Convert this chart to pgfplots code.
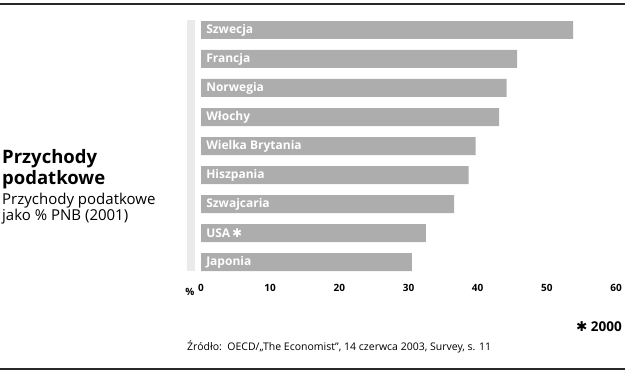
\documentclass[border=0pt]{standalone}
\usepackage{pgfplots}
\pgfplotsset{compat=1.18}
\usepackage{fontspec}
\setmainfont{Open Sans}
\newfontfamily\symfont{DejaVu Sans}
\definecolor{bargray}{RGB}{173,173,173}
\definecolor{stripgray}{RGB}{234,234,234}
\definecolor{linegray}{RGB}{40,40,40}
\begin{document}
\begin{tikzpicture}[x=1pt,y=-1pt]
\useasboundingbox (0,0) rectangle (629,378);
\draw[line width=1.4pt, linegray] (0,4) -- (625,4);
\draw[line width=1.4pt, linegray] (0,369) -- (625,369);
\fill[stripgray] (187,20) rectangle (195,271);
\begin{axis}[
  at={(201pt,-271pt)}, anchor=south west,
  scale only axis, width=415pt, height=250pt,
  xmin=0, xmax=60, ymin=-0.31, ymax=8.31,
  xbar, bar width=18pt, axis on top,
  axis line style={draw=none}, tick style={draw=none},
  xtick={0,10,...,60},
  ytick={0,...,8},
  yticklabels={Japonia,{USA\,{\symfont\char"2731}},Szwajcaria,Hiszpania,Wielka Brytania,W\l ochy,Norwegia,Francja,Szwecja},
  y tick label style={anchor=west, xshift=6pt, yshift=-0.5pt, text=white, font=\fontsize{12}{14}\selectfont\bfseries},
  x tick label style={font=\fontsize{10}{12}\selectfont\bfseries, yshift=-10pt},
  /pgf/number format/assume math mode=true,
]
\addplot[fill=bargray, draw=none] coordinates {
(30.5,0) (32.5,1) (36.6,2) (38.7,3) (39.7,4) (43.1,5) (44.2,6) (45.7,7) (53.8,8)};
\end{axis}
\node[anchor=base, font=\fontsize{10}{12}\selectfont\bfseries] at (190,295) {\%};
\node[anchor=base west, inner sep=0, font=\fontsize{18.5}{21}\selectfont\bfseries] at (2,163) {Przychody};
\node[anchor=base west, inner sep=0, font=\fontsize{18.5}{21}\selectfont\bfseries] at (2,184) {podatkowe};
\node[anchor=base west, inner sep=0, font=\fontsize{15}{16}\selectfont] at (2,204) {Przychody podatkowe};
\node[anchor=base west, inner sep=0, font=\fontsize{15}{16}\selectfont] at (2,220) {jako \% PNB (2001)};
\node[anchor=base east, inner sep=0, font=\fontsize{13.5}{15}\selectfont\bfseries] at (622,331) {{\symfont\char"2731}\ 2000};
\node[anchor=base west, inner sep=0, font=\fontsize{10.5}{12}\selectfont] at (187,350) {Źródło:\ \ OECD/„The Economist”, 14 czerwca 2003, Survey, s. 11};
\end{tikzpicture}
\end{document}
